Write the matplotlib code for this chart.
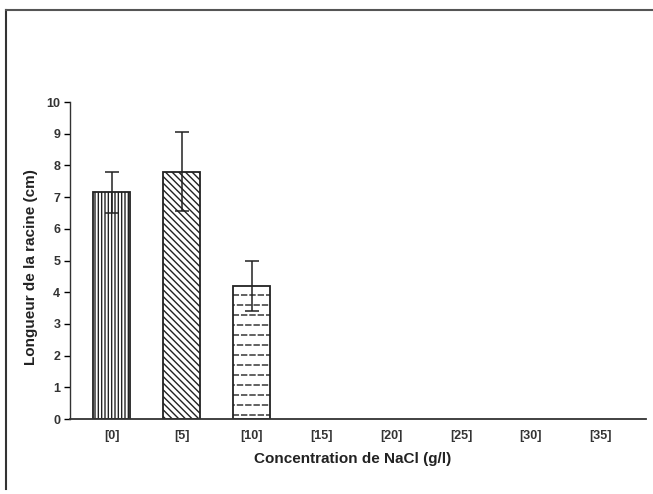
import numpy as np
import matplotlib
matplotlib.use("Agg")
import matplotlib.pyplot as plt
import matplotlib.hatch as mhatch
from matplotlib.path import Path
from matplotlib.lines import Line2D

categories = ["[0]", "[5]", "[10]", "[15]", "[20]", "[25]", "[30]", "[35]"]
values = [7.15, 7.8, 4.2, 0, 0, 0, 0, 0]
errors = [0.65, 1.25, 0.8, 0, 0, 0, 0, 0]
hatches = ["|||||", "\\\\\\\\\\", "--", "", "", "", "", ""]


class DashedHorizontalHatch(mhatch.HatchPatternBase):
    """Horizontal rows of short dashes, staggered row to row."""
    def __init__(self, hatch, density):
        nrows = int((hatch.count('-') + hatch.count('+')) * 5)
        ndash = 12
        segs = []
        if nrows > 0:
            p = 1.0 / ndash
            for r in range(nrows):
                y = (r + 0.5) / nrows
                off = 0.5 * p if r % 2 else 0.0
                for k in range(ndash):
                    a = off + k * p
                    b = a + 0.6 * p
                    if b <= 1.0:
                        segs.append((a, b, y))
                    else:
                        segs.append((a, 1.0, y))
                        segs.append((0.0, b - 1.0, y))
        self.segs = segs
        self.num_vertices = 2 * len(segs)

    def set_vertices_and_codes(self, vertices, codes):
        for i, (a, b, y) in enumerate(self.segs):
            vertices[2 * i] = (a, y)
            vertices[2 * i + 1] = (b, y)
            codes[2 * i] = Path.MOVETO
            codes[2 * i + 1] = Path.LINETO


mhatch._hatch_types[0] = DashedHorizontalHatch

plt.rcParams['font.family'] = ['Liberation Sans', 'DejaVu Sans']
plt.rcParams['hatch.linewidth'] = 1.0

fig = plt.figure(figsize=(6.53, 4.94), dpi=100)
ax = fig.add_axes([70/653, 75/494, 576/653, 317/494])

x = list(range(len(categories)))
for i in range(3):
    ax.bar(x[i], values[i], width=0.53, color="white", edgecolor="#222222",
           linewidth=1.3, hatch=hatches[i], zorder=2)
    ax.errorbar(x[i], values[i], yerr=errors[i], fmt="none", ecolor="#222222",
                elinewidth=1.1, capsize=5, capthick=1.1, zorder=3)

ax.set_xlim(-0.6, 7.65)
ax.set_ylim(0, 10)
ax.set_yticks(range(0, 11))
ax.set_xticks(x)
ax.set_xticklabels(categories)
ax.tick_params(axis="y", direction="out", length=4, width=1, labelsize=9, pad=3)
ax.tick_params(axis="x", length=0, labelsize=9, pad=8)
for lab in ax.get_xticklabels() + ax.get_yticklabels():
    lab.set_fontweight("bold")
    lab.set_color("#333333")
for s in ["top", "right"]:
    ax.spines[s].set_visible(False)
ax.spines["left"].set_linewidth(1.0)
ax.spines["bottom"].set_linewidth(1.3)
ax.spines["left"].set_color("#333333")
ax.spines["bottom"].set_color("#333333")

ax.set_ylabel("Longueur de la racine (cm)", fontsize=11, fontweight="bold", color="#222222")
ax.set_xlabel("Concentration de NaCl (g/l)", fontsize=11, fontweight="bold", color="#222222")
ax.xaxis.set_label_coords(0.49, -0.105)
ax.yaxis.set_label_coords(-0.056, 0.48)

# outer frame (left and top edges)
fig.add_artist(Line2D([6/653, 6/653], [0.01, 1 - 10/494], transform=fig.transFigure, color="#333333", lw=1.5))
fig.add_artist(Line2D([6/653, 1.0], [1 - 10/494, 1 - 10/494], transform=fig.transFigure, color="#555555", lw=1.5))

fig.savefig("out.png", dpi=100)
